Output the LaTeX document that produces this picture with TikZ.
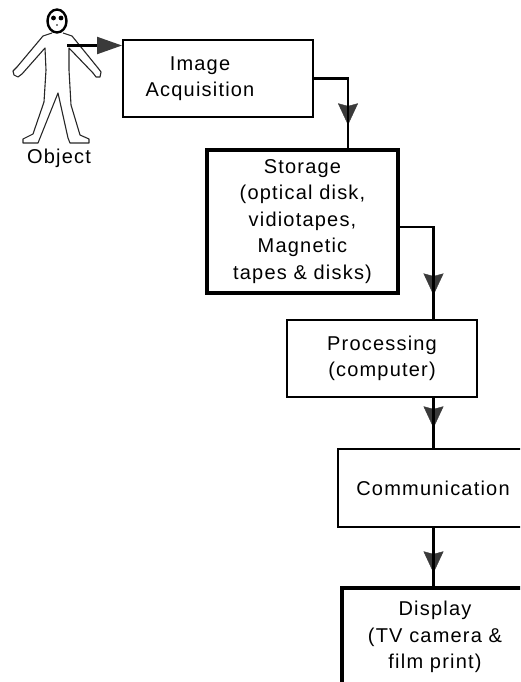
\documentclass[tikz,border=0pt]{standalone}
\usepackage{fontspec}
\setmainfont{Liberation Sans}[LetterSpace=6]
\usetikzlibrary{arrows.meta,decorations.markings}
\definecolor{headgray}{HTML}{3A3A3A}
\begin{document}
\begin{tikzpicture}[x=1pt,y=-1pt,
  boxtext/.style={inner sep=0pt, align=center, font=\fontsize{20}{26.5}\selectfont},
  box/.style={boxtext, draw=black, line width=2pt, fill=white},
  heavybox/.style={box, line width=3.4pt},
  conn/.style={draw=black, line width=2.2pt},
  midhead/.style={preaction={decorate, decoration={markings,
      mark=at position #1 with {\arrow{Stealth[length=25pt,width=23pt,inset=3pt,color=headgray]}}}}},
  figline/.style={draw=black!85, line width=1.1pt, line join=round},
  caption/.style={font=\fontsize{20}{24}\selectfont}
]
\useasboundingbox (0,0) rectangle (520,682);
\clip (0,0) rectangle (520,682);

% stick figure of the object
\draw[figline] (52,33) -- (43,36) -- (17,67) -- (13,71) -- (14,75) -- (18,77) -- (22,74)
  -- (45,48) -- (46,70) -- (44,102) -- (33,134) -- (23,139) -- (23,143) -- (38,143)
  -- (40,138) -- (58,93) -- (68,138) -- (70,143) -- (89,143) -- (89,139) -- (80,135)
  -- (71,105) -- (69,70) -- (69,48) -- (93,73) -- (96,77) -- (100,77) -- (101,72)
  -- (98,68) -- (72,36) -- (63,33);
\draw[line width=2.4pt, fill=white] (57,21) ellipse [x radius=9.5, y radius=11.5];
\fill (53.5,18) circle [radius=2.4];
\fill (61,18) circle [radius=2.4];
\fill (57,25) circle [radius=0.9];
\node[caption] (objlabel) at (59,158) {Object};

% processing chain
\node[box, minimum width=190pt, minimum height=77pt,
  label={[boxtext, xshift=-18pt]center:Image\\Acquisition}] (acq) at (218,78.5) {};
\node[heavybox, minimum width=191pt, minimum height=143pt] (stor) at (302.5,221.5)
  {Storage\\(optical disk,\\vidiotapes,\\Magnetic\\tapes \& disks)};
\node[box, minimum width=190pt, minimum height=77pt] (proc) at (382,358.5)
  {Processing\\(computer)};
\node[box, minimum width=190pt, minimum height=78pt] (comm) at (433,488) {Communication};
\node[heavybox, minimum width=186pt, minimum height=98pt] (disp) at (435,637)
  {Display\\(TV camera \&\\film print)};

% connectors
\coordinate (grip) at (67,45.5);
\coordinate (r1) at (348,0);
\coordinate (col) at (433.5,0);
\draw[conn, -{Triangle[length=25pt,width=17pt,color=headgray]}] (grip) -- (grip -| acq.west);
\draw[conn, midhead=82.6pt] (acq.east) -| (r1 |- stor.north);
\draw[conn, midhead=104pt] ([yshift=-5.5pt]stor.east) -| (col |- proc.north);
\draw[conn, midhead=32.1pt] (proc.south -| col) -- (comm.north -| col);
\draw[conn, midhead=47.1pt] (comm.south -| col) -- (disp.north -| col);
\end{tikzpicture}
\end{document}
